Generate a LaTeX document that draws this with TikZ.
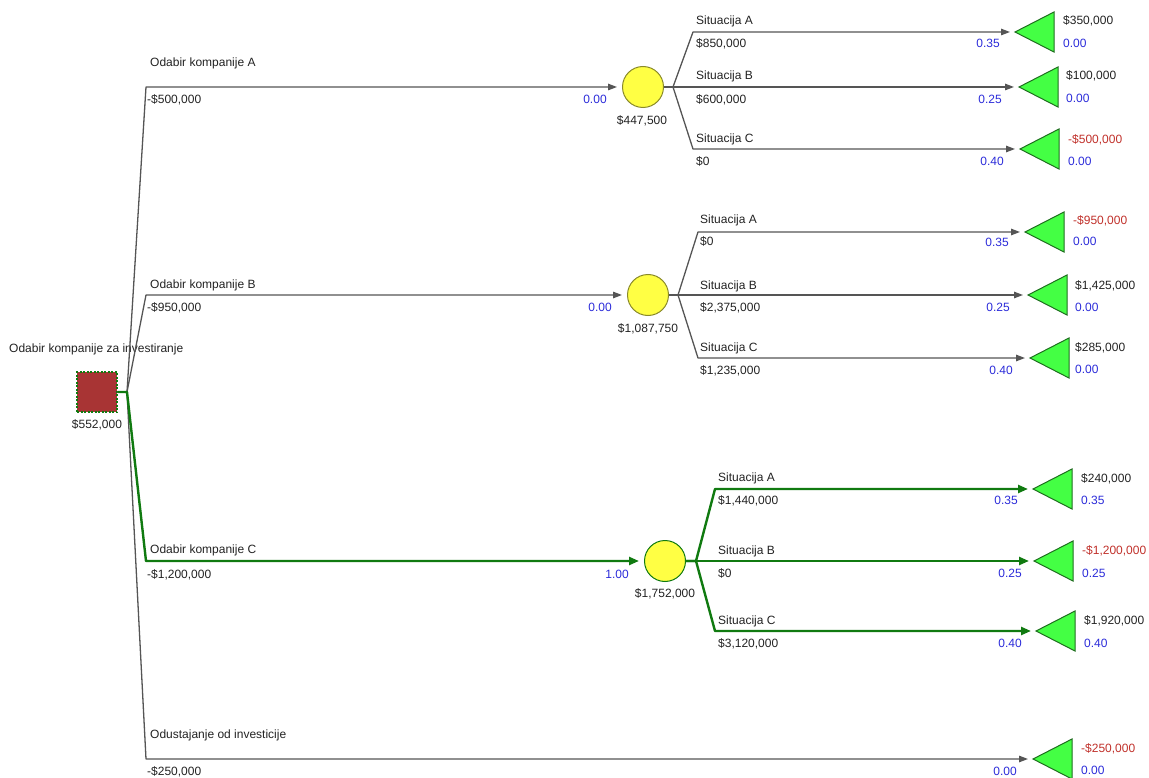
\documentclass[tikz,border=0pt]{standalone}
\usepackage{fontspec}
\setmainfont{Liberation Sans}
\usetikzlibrary{arrows.meta}
\definecolor{lgray}{HTML}{555555}
\definecolor{opt}{HTML}{107A10}
\definecolor{tfill}{HTML}{44FF44}
\definecolor{tline}{HTML}{1E6E1E}
\definecolor{cfill}{HTML}{FFFF44}
\definecolor{cline}{HTML}{8A8A2A}
\definecolor{dfill}{HTML}{A83434}
\definecolor{ptxt}{HTML}{2B2BD9}
\definecolor{ntxt}{HTML}{C0302A}
\definecolor{ttxt}{HTML}{222222}
\begin{document}
\begin{tikzpicture}[x=1pt,y=-1pt,
  lbl/.style={font=\fontsize{12}{14}\selectfont, text=ttxt, inner sep=0pt, text height=8.6pt, text depth=0pt, anchor=west},
  ctr/.style={lbl, anchor=center},
  prob/.style={lbl, text=ptxt, anchor=center},
  probw/.style={lbl, text=ptxt},
  neg/.style={lbl, text=ntxt},
  br/.style={draw=lgray, line width=1.3pt, line join=round, -{Triangle[length=9pt,width=6.5pt]}, shorten >=5pt},
  obr/.style={draw=opt, line width=2.4pt, line join=round, -{Triangle[length=10pt,width=8pt]}, shorten >=5pt},
  chance/.style={circle, draw=cline, fill=cfill, line width=1pt, minimum size=41pt, inner sep=0pt},
  ochance/.style={chance, draw=opt},
  decision/.style={rectangle, fill=dfill, draw=opt, line width=1.2pt, dash pattern=on 2pt off 1.5pt, minimum size=40pt, inner sep=0pt},
  term/.style={fill=tfill, draw=tline, line width=1pt, line join=miter}
]
\useasboundingbox (0,0) rectangle (1149,778);

% decision node
\node[decision] (dec) at (97,392) {};
\node[lbl] (declbl) at (9,348) {Odabir kompanije za investiranje};
\node[ctr] (decval) at (97,424) {\$552,000};
\coordinate (jd) at (127,392);
\coordinate (dA) at (146,87);
\coordinate (dB) at (146,295);
\coordinate (dC) at (146,561);
\coordinate (dD) at (146,759);

% chance nodes
\node[chance] (chA) at (643,87) {};
\node[chance] (chB) at (648,295) {};
\node[ochance] (chC) at (665,561) {};
\node[ctr] (chAv) at (642,120) {\$447,500};
\node[ctr] (chBv) at (648,328) {\$1,087,750};
\node[ctr] (chCv) at (665,593) {\$1,752,000};

% joints
\coordinate (jA) at (673,87);
\coordinate (jB) at (678,295);
\coordinate (jC) at (696,561);

% sub branch starts
\coordinate (sA1) at (693,32);  \coordinate (sA2) at (693,87);  \coordinate (sA3) at (693,149);
\coordinate (sB1) at (698,232); \coordinate (sB2) at (698,295); \coordinate (sB3) at (698,358);
\coordinate (sC1) at (715,489); \coordinate (sC2) at (715,561); \coordinate (sC3) at (715,631);

% terminal tips
\coordinate (tA1) at (1015,32);  \coordinate (tA2) at (1019,87);  \coordinate (tA3) at (1020,149);
\coordinate (tB1) at (1025,232); \coordinate (tB2) at (1028,295); \coordinate (tB3) at (1030,358);
\coordinate (tC1) at (1033,489); \coordinate (tC2) at (1034,561); \coordinate (tC3) at (1036,631);
\coordinate (tD) at (1033,759);

% terminal triangles
\foreach \t in {tA1,tA2,tA3,tB1,tB2,tB3,tC1,tC2,tC3,tD}
  \filldraw[term] (\t) -- ++(39,-20) -- ++(0,40) -- cycle;

% decision branches
\draw[br] (dec.east) -- (jd) -- (dA) -- (chA);
\draw[br] (dec.east) -- (jd) -- (dB) -- (chB);
\draw[br] (dec.east) -- (jd) -- (dD) -- (tD);
\draw[obr] (dec.east) -- (jd) -- (dC) -- (chC);

% chance A branches
\draw[br] (chA.east) -- (jA) -- (sA1) -- (tA1);
\draw[br] (chA.east) -- (jA) -- (sA2) -- (tA2);
\draw[br] (chA.east) -- (jA) -- (sA3) -- (tA3);
% chance B branches
\draw[br] (chB.east) -- (jB) -- (sB1) -- (tB1);
\draw[br] (chB.east) -- (jB) -- (sB2) -- (tB2);
\draw[br] (chB.east) -- (jB) -- (sB3) -- (tB3);
% chance C branches
\draw[obr] (chC.east) -- (jC) -- (sC1) -- (tC1);
\draw[obr] (chC.east) -- (jC) -- (sC2) -- (tC2);
\draw[obr] (chC.east) -- (jC) -- (sC3) -- (tC3);

% decision branch labels
\node[lbl] (nA) at (150,62) {Odabir kompanije A};
\node[lbl] (vA) at (147,99) {-\$500,000};
\node[prob] (pA) at (595,99) {0.00};
\node[lbl] (nB) at (150,284) {Odabir kompanije B};
\node[lbl] (vB) at (147,307) {-\$950,000};
\node[prob] (pB) at (600,307) {0.00};
\node[lbl] (nC) at (150,549) {Odabir kompanije C};
\node[lbl] (vC) at (147,574) {-\$1,200,000};
\node[prob] (pC) at (617,574) {1.00};
\node[lbl] (nD) at (150,734) {Odustajanje od investicije};
\node[lbl] (vD) at (147,771) {-\$250,000};
\node[prob] (pD) at (1005,771) {0.00};

% chance A labels
\node[lbl] (nA1) at (696,20) {Situacija A};
\node[lbl] (vA1) at (696,43) {\$850,000};
\node[prob] (pA1) at (988,43) {0.35};
\node[lbl] (nA2) at (696,75) {Situacija B};
\node[lbl] (vA2) at (696,99) {\$600,000};
\node[prob] (pA2) at (990,99) {0.25};
\node[lbl] (nA3) at (696,138) {Situacija C};
\node[lbl] (vA3) at (696,161) {\$0};
\node[prob] (pA3) at (992,161) {0.40};
% chance B labels
\node[lbl] (nB1) at (700,219) {Situacija A};
\node[lbl] (vB1) at (700,241) {\$0};
\node[prob] (pB1) at (997,242) {0.35};
\node[lbl] (nB2) at (700,285) {Situacija B};
\node[lbl] (vB2) at (700,307) {\$2,375,000};
\node[prob] (pB2) at (998,307) {0.25};
\node[lbl] (nB3) at (700,347) {Situacija C};
\node[lbl] (vB3) at (700,370) {\$1,235,000};
\node[prob] (pB3) at (1001,370) {0.40};
% chance C labels
\node[lbl] (nC1) at (718,477) {Situacija A};
\node[lbl] (vC1) at (718,500) {\$1,440,000};
\node[prob] (pC1) at (1006,500) {0.35};
\node[lbl] (nC2) at (718,550) {Situacija B};
\node[lbl] (vC2) at (718,573) {\$0};
\node[prob] (pC2) at (1010,573) {0.25};
\node[lbl] (nC3) at (718,620) {Situacija C};
\node[lbl] (vC3) at (718,643) {\$3,120,000};
\node[prob] (pC3) at (1010,643) {0.40};

% terminal labels
\node[lbl] (rA1) at (1063,20) {\$350,000};
\node[probw] (qA1) at (1063,43) {0.00};
\node[lbl] (rA2) at (1066,75) {\$100,000};
\node[probw] (qA2) at (1066,98) {0.00};
\node[neg] (rA3) at (1068,139) {-\$500,000};
\node[probw] (qA3) at (1068,161) {0.00};
\node[neg] (rB1) at (1073,220) {-\$950,000};
\node[probw] (qB1) at (1073,241) {0.00};
\node[lbl] (rB2) at (1075,285) {\$1,425,000};
\node[probw] (qB2) at (1075,307) {0.00};
\node[lbl] (rB3) at (1075,347) {\$285,000};
\node[probw] (qB3) at (1075,369) {0.00};
\node[lbl] (rC1) at (1081,478) {\$240,000};
\node[probw] (qC1) at (1081,500) {0.35};
\node[neg] (rC2) at (1082,550) {-\$1,200,000};
\node[probw] (qC2) at (1082,573) {0.25};
\node[lbl] (rC3) at (1084,620) {\$1,920,000};
\node[probw] (qC3) at (1084,643) {0.40};
\node[neg] (rD) at (1081,748) {-\$250,000};
\node[probw] (qD) at (1081,770) {0.00};
\end{tikzpicture}
\end{document}
